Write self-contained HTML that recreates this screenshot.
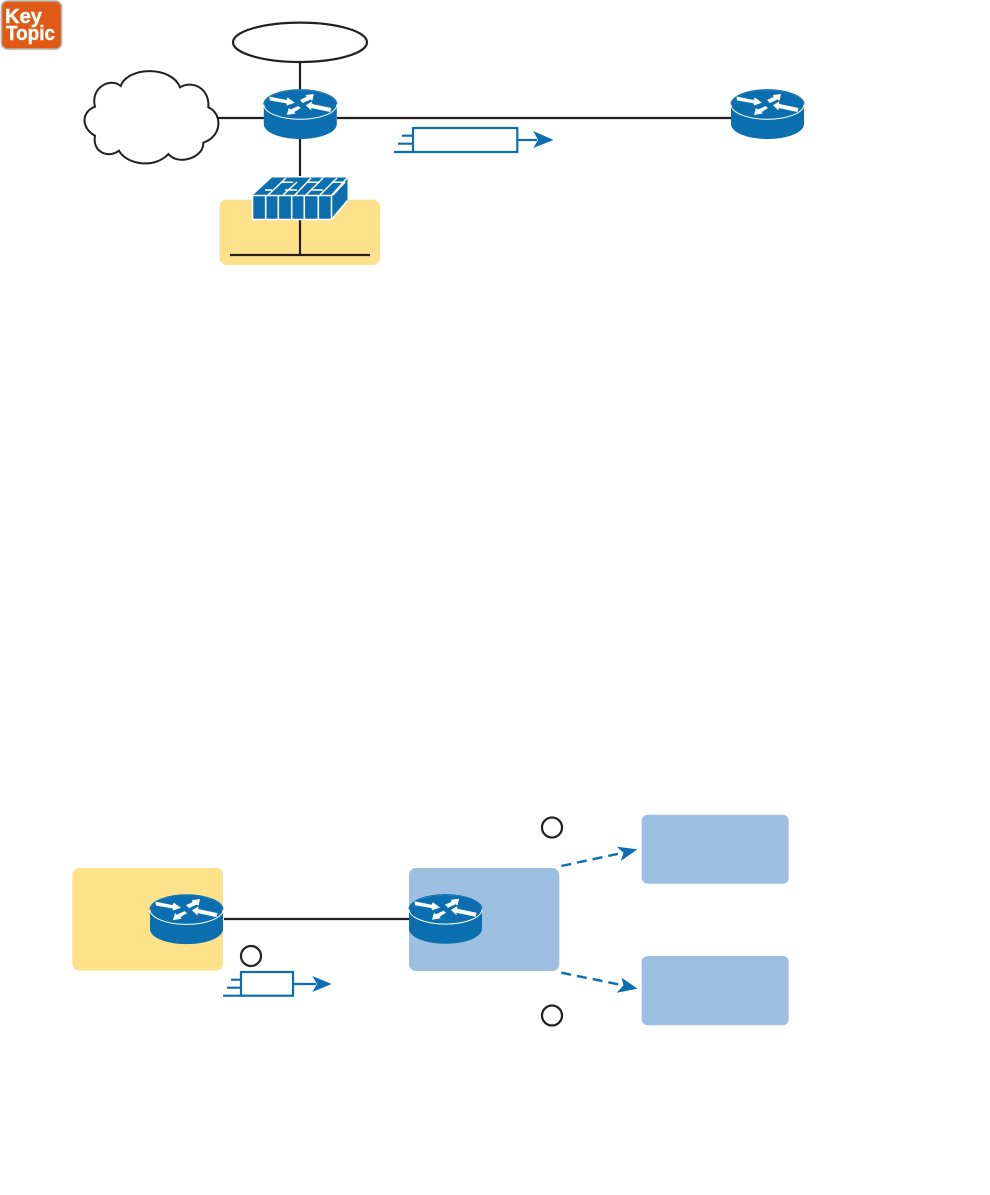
<!DOCTYPE html>
<html>
<head>
<meta charset="utf-8">
<style>
html,body{margin:0;padding:0;background:#fff;width:990px;height:1195px;overflow:hidden}
svg{display:block}
</style>
</head>
<body>
<svg width="990" height="1195" viewBox="0 0 990 1195" xmlns="http://www.w3.org/2000/svg">
<defs>
<g id="router">
  <path d="M-36.5 0 V19.5 C-36.5 28 -20 34.5 0 34.5 C20 34.5 36.5 28 36.5 19.5 V0 Z" fill="#0B6FAF"/>
  <ellipse cx="0" cy="0" rx="36.5" ry="14.8" fill="#0B6FAF" stroke="#fff" stroke-width="1"/>
  <path d="M-36.5 0 A36.5 14.8 0 0 1 36.5 0" fill="none" stroke="#0B6FAF" stroke-width="1.1"/>
  <polygon points="-31,-8 -14,-4.5 -12.7,-7 -5.5,-1.8 -13.5,1 -14,-1.2 -30.5,-4" fill="#fff"/>
  <polygon points="-0.5,-4.5 6,-7.5 5.5,-9.5 13.5,-10.5 12,-3.8 10,-5 2.5,-1.5" fill="#fff"/>
  <polygon points="5.5,0.7 11.5,-3 12,-0.5 31,3.5 30,7.5 11,3.5 11,6" fill="#fff"/>
  <polygon points="-13.5,10.5 -11.5,3.5 -9.5,5 -2,1.5 0.5,3.5 -6,7.5 -4.8,9" fill="#fff"/>
</g>
</defs>

<!-- Key Topic -->
<rect x="1.5" y="1" width="60" height="48" rx="6" fill="#E05A16" stroke="#B5B0AA" stroke-width="1.6"/>
<text x="5" y="23" font-family="'Liberation Sans',sans-serif" font-weight="bold" font-size="20.5" fill="#fff" stroke="#fff" stroke-width="0.4" textLength="37" lengthAdjust="spacingAndGlyphs">Key</text>
<text x="6" y="40" font-family="'Liberation Sans',sans-serif" font-weight="bold" font-size="20.5" fill="#fff" stroke="#fff" stroke-width="0.4" textLength="49" lengthAdjust="spacingAndGlyphs">Topic</text>

<!-- Top diagram -->
<rect x="219.5" y="199.7" width="160.5" height="65.3" rx="7" fill="#FDE28B"/>
<g stroke="#231F20" stroke-width="2.2" fill="none">
  <ellipse cx="300" cy="42.3" rx="67" ry="19.7" fill="#fff"/>
  <path d="M300 62V90M300 139V176M300 219V255M230 255H370"/>
  <path d="M218 118H264M337 118H731"/>
  <path d="M120.7 86 C128 66 172 66 180 87.3 C192 80 210 88 208.3 107.3 C222 113 223 136 203.3 142.7 C204 158 178 166 168.3 154 C156 168 128 166 119 150.7 C108 159 92 152 95 135.7 C81 128 81 112 95 106.7 C90 88 110 77 120.7 86 Z" fill="#fff" stroke-width="2"/>
</g>
<use href="#router" x="300.3" y="104.5"/>
<use href="#router" x="767.5" y="104.5"/>

<!-- Firewall -->
<g>
  <polygon points="252.5,195.5 272,177.5 347.5,177.5 347.5,200.5 331.5,219.5 252.5,219.5" fill="#0B6FAF"/>
  <g stroke="#fff" fill="none">
    <path d="M252.5 195.5H331.5V219.5H252.5Z M331.5 195.5L347.5 177.5M331.5 219.5L347.5 200.5" stroke-width="1.6"/>
    <path d="M265.7 195.5V219.5M278.3 195.5V219.5M291.7 195.5V219.5M304.3 195.5V219.5M318.3 195.5V219.5" stroke-width="1.6"/>
    <path d="M281.7 182.3H293M306.7 182.3H320M331.7 182.3H343M265 190H272M285 190H297M311.7 190H323M286 178L268 195M297 182L283 195M311 178L295 195M323 178L306 195M337 178L320 195M345 182L333 195" stroke-width="1.5"/>
  </g>
</g>

<!-- Top packet -->
<g stroke="#0B6FAF" stroke-width="2.2" fill="none">
  <rect x="413" y="128" width="104.3" height="24"/>
  <path d="M402 135.7H413M398 143.7H413M394 152H413M517 140H537"/>
</g>
<polygon points="553.5,140 533.3,131 538,140 533.3,148" fill="#0B6FAF"/>

<!-- Bottom diagram -->
<rect x="72.3" y="868" width="150.7" height="102.7" rx="7" fill="#FDE28B"/>
<rect x="409" y="868" width="150.3" height="103" rx="7" fill="#9DC0E1"/>
<rect x="641.7" y="814.7" width="147" height="69" rx="6" fill="#9DC0E1"/>
<rect x="641.7" y="956" width="147" height="69.3" rx="6" fill="#9DC0E1"/>
<path d="M224 919H409" stroke="#231F20" stroke-width="2.2" fill="none"/>
<use href="#router" x="186.5" y="909.6"/>
<use href="#router" x="445.5" y="909.3"/>

<g stroke="#231F20" stroke-width="2.2" fill="#fff">
  <circle cx="251" cy="956" r="10"/>
  <circle cx="552" cy="827.5" r="10"/>
  <circle cx="552" cy="1015.5" r="10"/>
</g>

<!-- Bottom packet -->
<g stroke="#0B6FAF" stroke-width="2.2" fill="none">
  <rect x="241" y="972" width="52" height="23.7"/>
  <path d="M231 979.7H241M227 987.7H241M223 995.7H241M293 984H316"/>
</g>
<polygon points="331.7,984 312.3,976 317,984 312.3,992" fill="#0B6FAF"/>

<!-- Dashed arrows -->
<g stroke="#0B6FAF" stroke-width="2.4" fill="none" stroke-dasharray="10 6">
  <path d="M561.3 866L624 852.5"/>
  <path d="M561.3 972.7L624 985.5"/>
</g>
<polygon points="637.5,849.3 616.7,846.7 623.5,852.8 620.7,861" fill="#0B6FAF"/>
<polygon points="637.5,988.7 621.7,977.7 623.5,985.3 616.7,992.7" fill="#0B6FAF"/>
</svg>
</body>
</html>
